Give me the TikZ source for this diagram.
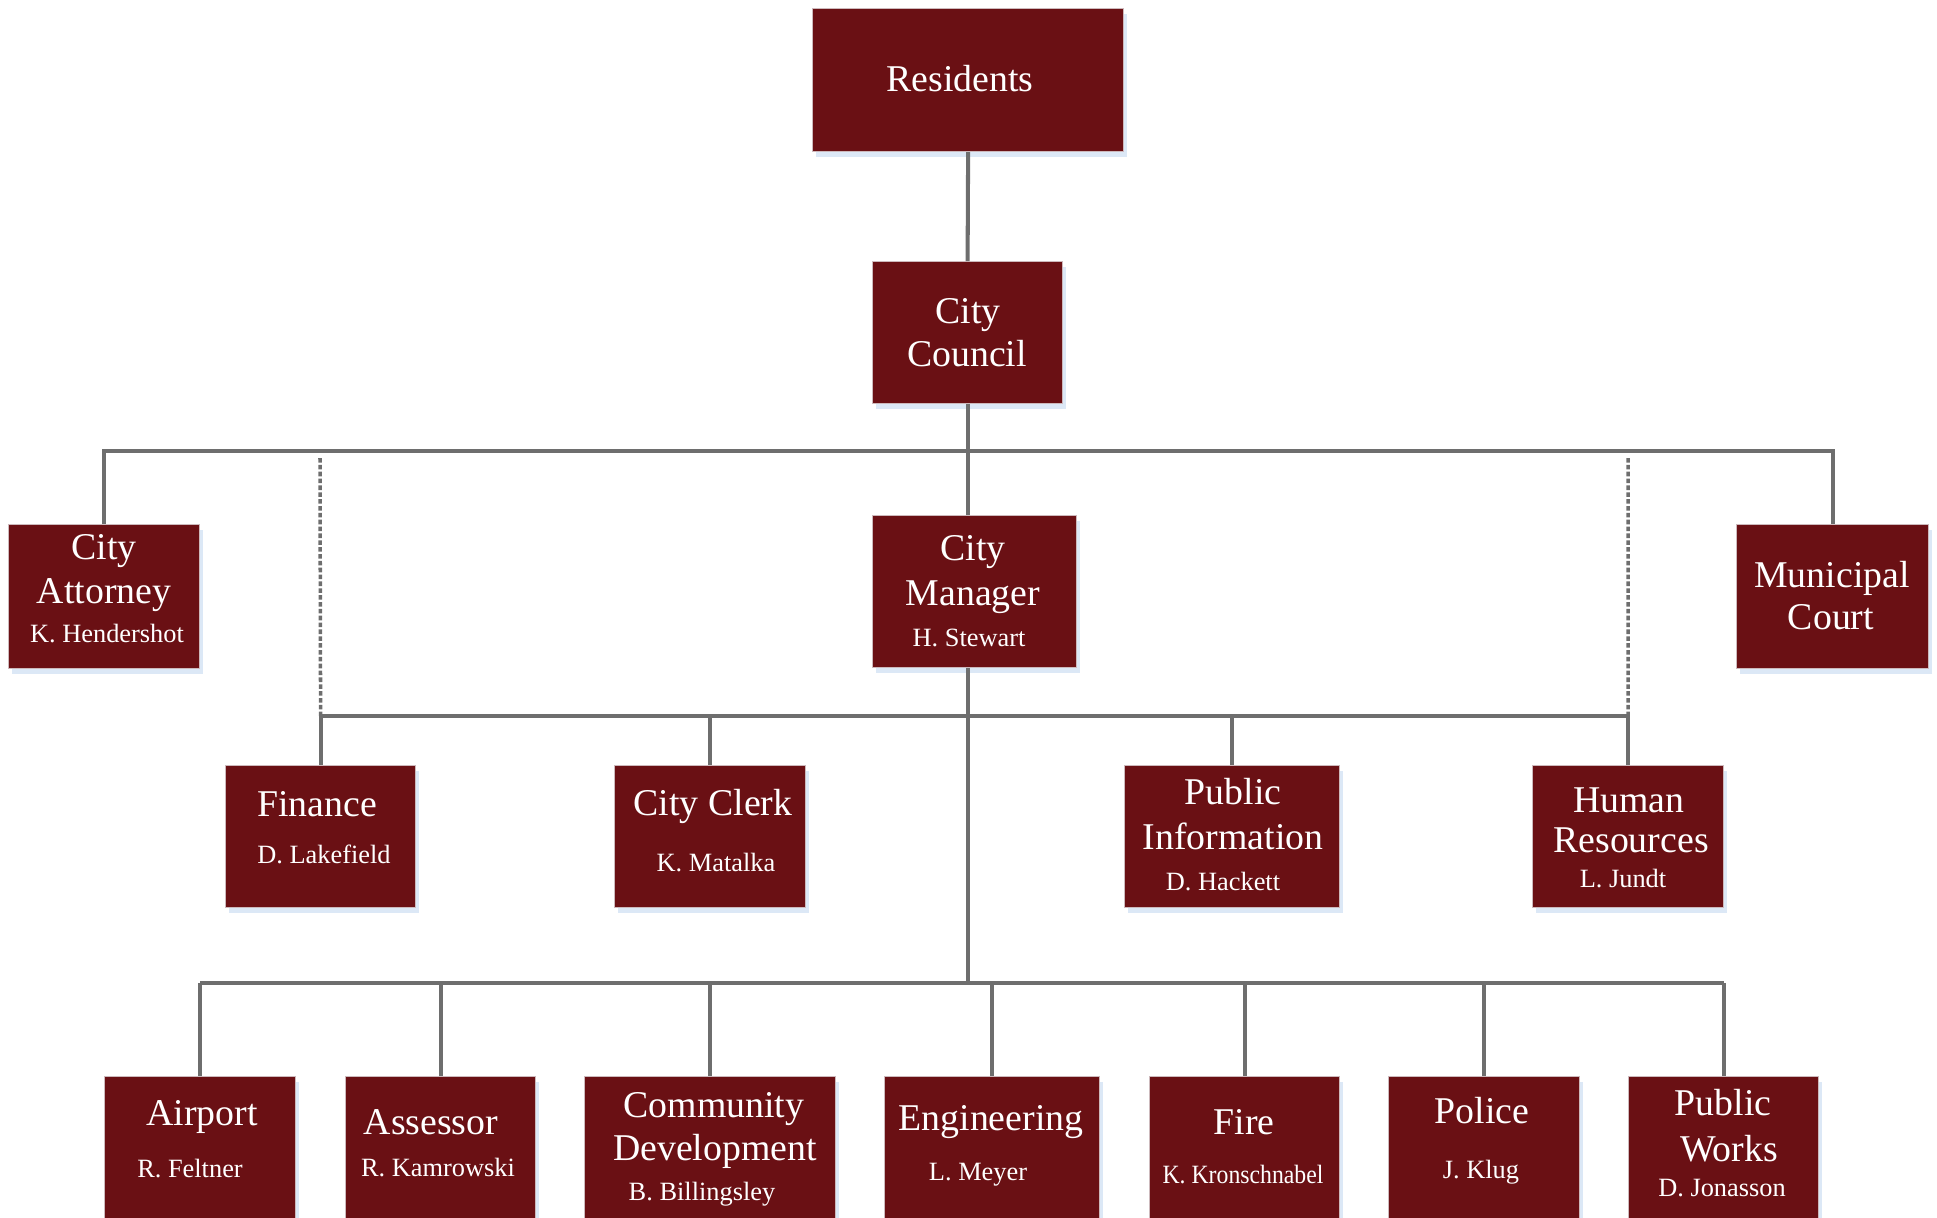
\documentclass[tikz,border=0pt]{standalone}
\usepackage{fontspec}
\setmainfont{Liberation Serif}
\newfontfamily\narrowserif[FakeStretch=0.9]{Liberation Serif}
\usetikzlibrary{shadows}
\definecolor{boxred}{RGB}{106,16,20}
\definecolor{boxedge}{RGB}{205,185,188}
\definecolor{linegray}{RGB}{110,110,110}
\definecolor{shadowblue}{RGB}{205,222,242}
\begin{document}
\begin{tikzpicture}[x=0.01cm,y=-0.01cm,
  box/.style={fill=boxred, draw=boxedge, line width=0.3pt, inner sep=0pt, anchor=north west,
    drop shadow={shadow xshift=0.03cm, shadow yshift=-0.05cm, fill=shadowblue, opacity=0.7}},
  tt/.style={text=white, font=\fontsize{10.75}{12}\selectfont, inner sep=0pt, anchor=base},
  nm/.style={text=white, font=\fontsize{7.5}{9}\selectfont, inner sep=0pt, anchor=base},
  conn/.style={draw=linegray, line width=1.15pt},
  dotl/.style={draw=linegray, line width=1.0pt, dash pattern=on 1.3pt off 0.65pt}]
\useasboundingbox (0,0) rectangle (1937,1217);
\clip (0,0) rectangle (1937,1217);

% bus coordinates
\coordinate (b1) at (0,451);
\coordinate (b2) at (0,716);
\coordinate (b3) at (0,983);
\coordinate (d1t) at (320,458);
\coordinate (d2t) at (1628,458);

% boxes
\node[box, minimum width=3.11cm, minimum height=1.43cm] (res) at (812,8) {};
\node[box, minimum width=1.90cm, minimum height=1.42cm] (cc) at (872,261) {};
\node[box, minimum width=1.91cm, minimum height=1.44cm] (att) at (8,524) {};
\node[box, minimum width=2.04cm, minimum height=1.52cm] (mgr) at (872,515) {};
\node[box, minimum width=1.92cm, minimum height=1.44cm] (mc) at (1736,524) {};
\node[box, minimum width=1.90cm, minimum height=1.42cm] (fin) at (225,765) {};
\node[box, minimum width=1.91cm, minimum height=1.42cm] (clerk) at (614,765) {};
\node[box, minimum width=2.15cm, minimum height=1.42cm] (pi) at (1124,765) {};
\node[box, minimum width=1.91cm, minimum height=1.42cm] (hr) at (1532,765) {};
\node[box, minimum width=1.91cm, minimum height=1.64cm] (air) at (104,1076) {};
\node[box, minimum width=1.90cm, minimum height=1.64cm] (ass) at (345,1076) {};
\node[box, minimum width=2.51cm, minimum height=1.64cm] (com) at (584,1076) {};
\node[box, minimum width=2.15cm, minimum height=1.64cm] (eng) at (884,1076) {};
\node[box, minimum width=1.90cm, minimum height=1.64cm] (fire) at (1149,1076) {};
\node[box, minimum width=1.91cm, minimum height=1.64cm] (pol) at (1388,1076) {};
\node[box, minimum width=1.90cm, minimum height=1.64cm] (pw) at (1628,1076) {};

% connectors
\draw[conn] (res.south) -- (cc.north);
\draw[conn] (cc.south) -- (cc.south |- mgr.north);
\draw[conn] (att.north) -- (att.north |- b1) -- (mc.north |- b1) -- (mc.north);
\draw[dotl] (d1t) -- (fin.north |- b2);
\draw[dotl] (d2t) -- (hr.north |- b2);
\draw[conn] (fin.north |- b2) -- (hr.north |- b2);
\draw[conn] (fin.north |- b2) -- (fin.north);
\draw[conn] (clerk.north |- b2) -- (clerk.north);
\draw[conn] (pi.north |- b2) -- (pi.north);
\draw[conn] (hr.north |- b2) -- (hr.north);
\draw[conn] (cc.south |- mgr.south) -- (cc.south |- b3);
\draw[conn] (air.north |- b3) -- (pw.north |- b3);
\foreach \n in {air,ass,com,eng,fire,pol,pw}{
  \draw[conn] (\n.north |- b3) -- (\n.north);
}

% texts
\node[tt] (tres) at (960,91) {Residents};
\node[tt] (tcc1) at (968,323) {City};
\node[tt] (tcc2) at (967,366) {Council};
\node[tt] (tat1) at (104,559) {City};
\node[tt] (tat2) at (104,603) {Attorney};
\node[nm] (tat3) at (107,642) {K. Hendershot};
\node[tt] (tmg1) at (973,560) {City};
\node[tt] (tmg2) at (973,605) {Manager};
\node[nm] (tmg3) at (969,646) {H. Stewart};
\node[tt] (tmc1) at (1832,587) {Municipal};
\node[tt] (tmc2) at (1831,629) {Court};
\node[tt] (tfi1) at (317,816) {Finance};
\node[nm] (tfi2) at (324,863) {D. Lakefield};
\node[tt] (tcl1) at (713,815) {City Clerk};
\node[nm] (tcl2) at (716,871) {K. Matalka};
\node[tt] (tpi1) at (1233,804) {Public};
\node[tt] (tpi2) at (1233,849) {Information};
\node[nm] (tpi3) at (1223,890) {D. Hackett};
\node[tt] (thr1) at (1629,812) {Human};
\node[tt] (thr2) at (1631,852) {Resources};
\node[nm] (thr3) at (1623,887) {L. Jundt};
\node[tt] (tai1) at (202,1125) {Airport};
\node[nm] (tai2) at (190,1177) {R. Feltner};
\node[tt] (tas1) at (431,1134) {Assessor};
\node[nm] (tas2) at (438,1176) {R. Kamrowski};
\node[tt] (tco1) at (714,1117) {Community};
\node[tt] (tco2) at (715,1160) {Development};
\node[nm] (tco3) at (702,1200) {B. Billingsley};
\node[tt] (ten1) at (991,1130) {Engineering};
\node[nm] (ten2) at (978,1180) {L. Meyer};
\node[tt] (tfr1) at (1244,1134) {Fire};
\node[nm, font=\narrowserif\fontsize{7.5}{9}\selectfont] (tfr2) at (1243,1183) {K. Kronschnabel};
\node[tt] (tpo1) at (1482,1123) {Police};
\node[nm] (tpo2) at (1481,1178) {J. Klug};
\node[tt] (tpw1) at (1723,1115) {Public};
\node[tt] (tpw2) at (1729,1161) {Works};
\node[nm] (tpw3) at (1722,1196) {D. Jonasson};
\end{tikzpicture}
\end{document}
